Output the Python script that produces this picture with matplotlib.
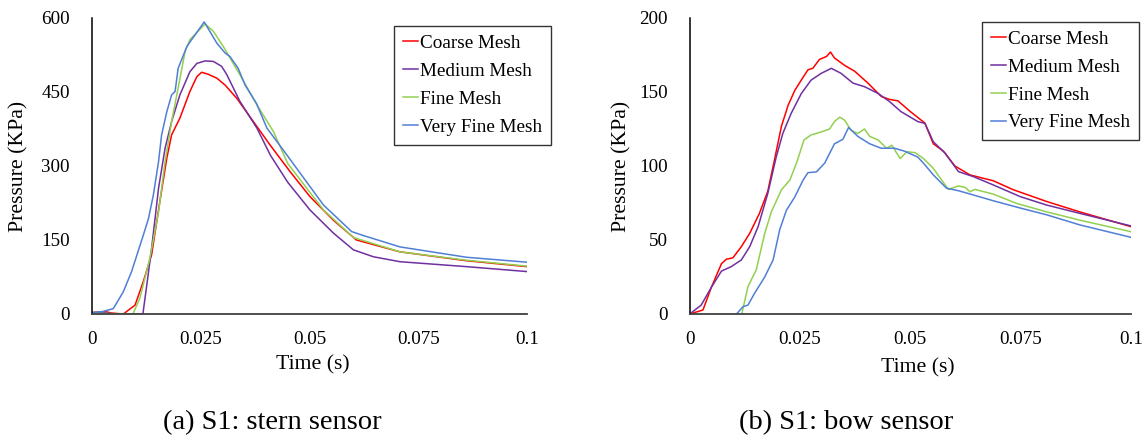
import matplotlib
matplotlib.use("Agg")
import matplotlib.pyplot as plt

plt.rcParams['font.family'] = ['Liberation Serif', 'DejaVu Serif']

series_names = ['Coarse Mesh', 'Medium Mesh', 'Fine Mesh', 'Very Fine Mesh']
colors = ['#FF0000', '#7030A0', '#92D050', '#4F7FD6']
x_ticks = [0, 0.025, 0.05, 0.075, 0.1]
x_ticklabels = ['0', '0.025', '0.05', '0.075', '0.1']

# (a) stern sensor
stern_coarse_t = [0, 0.003, 0.0045, 0.0072, 0.0099, 0.0118, 0.0137, 0.0156, 0.0172, 0.0183, 0.0202, 0.0225,
                  0.0241, 0.0252, 0.0267, 0.0287, 0.0306, 0.0333, 0.0371, 0.0409, 0.0455, 0.0501, 0.0555, 0.0608,
                  0.0708, 0.0861, 0.1]
stern_coarse_p = [3, 5, 2, 0, 18, 66, 120, 228, 316, 363, 397, 451,
                  481, 490, 486, 478, 464, 437, 390, 343, 289, 238, 190, 150,
                  126, 108, 96]
stern_medium_t = [0, 0.0025, 0.005, 0.0117, 0.0126, 0.0137, 0.0153, 0.0168, 0.0183, 0.0202, 0.0225, 0.0241,
                  0.0260, 0.0279, 0.0298, 0.0310, 0.0340, 0.0379, 0.0410, 0.0450, 0.0501, 0.0555, 0.0601, 0.0647,
                  0.0708, 0.0861, 0.1]
stern_medium_p = [2, 3, 0, 0, 59, 133, 255, 336, 390, 444, 491, 508,
                  513, 512, 502, 485, 431, 377, 322, 267, 211, 164, 130, 116,
                  106, 96, 86]
stern_fine_t = [0, 0.003, 0.0094, 0.0110, 0.0133, 0.0153, 0.0168, 0.0183, 0.0198, 0.0214, 0.0225, 0.0260,
                0.0279, 0.0302, 0.0340, 0.0379, 0.0417, 0.0450, 0.0532, 0.0601, 0.0708, 0.0861, 0.1]
stern_fine_p = [2, 1, 0, 32, 113, 207, 309, 390, 458, 532, 556, 588,
                573, 542, 485, 424, 370, 305, 211, 155, 126, 109, 97]
stern_vfine_t = [0, 0.0025, 0.0049, 0.0072, 0.0091, 0.0118, 0.0130, 0.0141, 0.0153, 0.0160, 0.0172, 0.0183,
                 0.0191, 0.0198, 0.0218, 0.0229, 0.0258, 0.0287, 0.0306, 0.0317, 0.0336, 0.0352, 0.0378, 0.0402,
                 0.0440, 0.0532, 0.0597, 0.0624, 0.0708, 0.0861, 0.1]
stern_vfine_p = [3, 5, 11, 45, 86, 160, 194, 241, 309, 363, 410, 444,
                 451, 498, 542, 556, 592, 549, 529, 522, 498, 464, 427, 377,
                 332, 221, 167, 159, 136, 115, 105]

# (b) bow sensor
bow_coarse_t = [0, 0.0030, 0.0049, 0.0072, 0.0083, 0.0098, 0.0117, 0.0136, 0.0158, 0.0177, 0.0192, 0.0208,
                0.0223, 0.0238, 0.0257, 0.0268, 0.0279, 0.0294, 0.0310, 0.0319, 0.0328, 0.0351, 0.0374, 0.0404,
                0.0434, 0.0453, 0.0472, 0.0499, 0.0533, 0.0552, 0.0575, 0.0601, 0.0635, 0.0688, 0.0733, 0.0809,
                0.0884, 0.1]
bow_coarse_p = [0, 2.7, 18, 34, 37, 38, 45.5, 54.5, 68, 83, 104, 127,
                141, 151, 160, 165, 166, 172, 174, 177, 173, 168, 164, 156,
                147, 145, 144, 137, 129, 115, 110, 100, 94, 90, 84, 76,
                69, 59]
bow_medium_t = [0, 0.0026, 0.0049, 0.0072, 0.0094, 0.0117, 0.0136, 0.0155, 0.0177, 0.0196, 0.0211, 0.0230,
                0.0253, 0.0275, 0.0298, 0.0321, 0.0343, 0.0370, 0.0396, 0.0427, 0.0453, 0.0479, 0.0517, 0.0533,
                0.0552, 0.0579, 0.0609, 0.0643, 0.0688, 0.0749, 0.0809, 0.0884, 0.1]
bow_medium_p = [0, 6, 18, 29, 32, 36.5, 45.5, 59, 81.5, 106, 122, 135.6,
                149, 158, 162.6, 166, 162.6, 156, 153.6, 149, 143.5, 136.7, 130, 128.8,
                116.4, 108.6, 96.2, 92.8, 87.2, 79.3, 73.6, 68, 59.5]
bow_fine_t = [0.0118, 0.0132, 0.0151, 0.0170, 0.0185, 0.0208, 0.0227, 0.0242, 0.0259, 0.0275, 0.0298, 0.0317,
              0.0328, 0.0340, 0.0351, 0.0366, 0.0381, 0.0396, 0.0408, 0.0427, 0.0446, 0.0458, 0.0477, 0.0492,
              0.0511, 0.0530, 0.0552, 0.0571, 0.0586, 0.0609, 0.0624, 0.0635, 0.0646, 0.0688, 0.0741, 0.0809,
              0.0884, 0.1]
bow_fine_p = [0, 18.5, 30, 54.5, 69, 84, 90.5, 102, 117.6, 121, 123, 125,
              130, 133, 131, 124, 122, 125, 120, 117.6, 112, 114, 105, 109.7,
              109, 105, 98.4, 90.5, 84.2, 86.5, 85.6, 82.6, 84.2, 81, 74.7, 69,
              63.4, 55.6]
bow_vfine_t = [0.0106, 0.0121, 0.0132, 0.0147, 0.0170, 0.0189, 0.0204, 0.0219, 0.0238, 0.0257, 0.0268, 0.0287,
               0.0306, 0.0328, 0.0347, 0.0360, 0.0381, 0.0408, 0.0434, 0.0464, 0.0487, 0.0517, 0.0530, 0.0552,
               0.0582, 0.0609, 0.0643, 0.0688, 0.0749, 0.0809, 0.0884, 0.1]
bow_vfine_p = [0, 5, 6, 14, 25, 36.5, 57, 70, 79, 90.5, 95.5, 96,
               102, 115, 118, 126, 120, 115, 112, 112, 110, 106, 101.8, 94,
               85, 83.3, 80.4, 76.5, 71.6, 67, 60.2, 51.8]

stern = [(stern_coarse_t, stern_coarse_p), (stern_medium_t, stern_medium_p),
         (stern_fine_t, stern_fine_p), (stern_vfine_t, stern_vfine_p)]
bow = [(bow_coarse_t, bow_coarse_p), (bow_medium_t, bow_medium_p),
       (bow_fine_t, bow_fine_p), (bow_vfine_t, bow_vfine_p)]

fig = plt.figure(figsize=(11.45, 4.43), dpi=100)
W, H = 1145, 443
ax1 = fig.add_axes([92 / W, (H - 314) / H, 435 / W, 296 / H])
ax2 = fig.add_axes([689.7 / W, (H - 314) / H, 441.3 / W, 296 / H])


def style(ax, data, ymax, yticks, leg_anchor, ylab_x, xlab_x, xlab_y):
    for (t, p), name, c in zip(data, series_names, colors):
        ax.plot(t, p, color=c, lw=1.1, label=name)
    ax.set_xlim(0, 0.1)
    ax.set_ylim(0, ymax)
    ax.set_xticks(x_ticks)
    ax.set_xticklabels(x_ticklabels)
    ax.set_yticks(yticks)
    ax.tick_params(length=0, labelsize=13.7)
    ax.tick_params(axis='y', pad=16)
    ax.tick_params(axis='x', pad=12)
    for s in ['top', 'right']:
        ax.spines[s].set_visible(False)
    ax.spines['left'].set_color('black')
    ax.spines['bottom'].set_color('#404040')
    ax.spines['left'].set_linewidth(1.1)
    ax.spines['bottom'].set_linewidth(1.3)
    ax.set_ylabel('Pressure (KPa)', fontsize=15.7, va='center', ha='center')
    ax.yaxis.set_label_coords(ylab_x, 0.5)
    ax.set_xlabel('Time (s)', fontsize=15.7, va='center', ha='center')
    ax.xaxis.set_label_coords(xlab_x, xlab_y)
    leg = ax.legend(loc='upper right', bbox_to_anchor=leg_anchor, fontsize=13.8, frameon=True, fancybox=False,
                    edgecolor='black', handlelength=0.8, handletextpad=0.1, labelspacing=0.55,
                    borderpad=0.45, borderaxespad=0)
    leg.get_frame().set_linewidth(1.0)


style(ax1, stern, 600, [0, 150, 300, 450, 600], (1.055, 0.973), -0.168, 0.508, -0.172)
style(ax2, bow, 200, [0, 50, 100, 150, 200], (1.018, 0.988), -0.153, 0.518, -0.182)

fig.text(272 / W, 1 - 423 / H, '(a) S1: stern sensor', ha='center', va='center', fontsize=20.5)
fig.text(846 / W, 1 - 423 / H, '(b) S1: bow sensor', ha='center', va='center', fontsize=20.5)

fig.savefig('out.png', dpi=100)
